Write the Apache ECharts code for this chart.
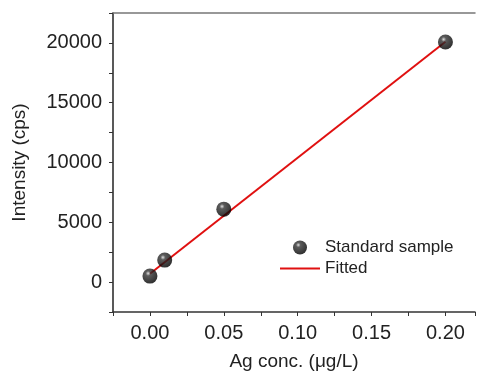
<!DOCTYPE html>
<html>
<head>
<meta charset="utf-8">
<script src="https://cdn.jsdelivr.net/npm/echarts@6/dist/echarts.min.js"></script>
<style>
  html, body { margin: 0; padding: 0; background: #fff; }
  #main { width: 478px; height: 379px; }
</style>
</head>
<body>
<div id="main"></div>
<script>
// measured points
const concX = [0, 0.01, 0.05, 0.2];
const intensityY = [500, 1840, 6100, 20070];
// fitted line end points
const fitX = [0, 0.2];
const fitY = [700, 20100];

const font = 'Liberation Sans, Arial, sans-serif';

const sphere = {
  type: 'radial', x: 0.38, y: 0.32, r: 0.65,
  colorStops: [
    { offset: 0, color: '#d8d8d8' },
    { offset: 0.25, color: '#333' },
    { offset: 1, color: '#000' }
  ]
};

const chart = echarts.init(document.getElementById('main'));
const option = {
  animation: false,
  backgroundColor: '#fff',
  grid: { left: 113, top: 13, right: 0, bottom: 67 },
  legend: {
    left: 274, top: 234, orient: 'vertical',
    itemWidth: 40, itemHeight: 14, itemGap: 4,
    textStyle: { fontFamily: font, fontSize: 17, color: '#222' },
    data: [
      { name: 'Standard sample', icon: 'circle' },
      { name: 'Fitted', itemStyle: { opacity: 0 } }
    ]
  },
  xAxis: [{
    type: 'value', min: -0.025, max: 0.22, interval: 0.025,
    name: 'Ag conc. (\u03bcg/L)', nameLocation: 'middle', nameGap: 40,
    nameTextStyle: { fontFamily: font, fontSize: 19, color: '#222' },
    splitLine: { show: false },
    axisLine: { onZero: false, lineStyle: { color: '#333', width: 1.5 } },
    axisTick: { length: 4, lineStyle: { color: '#333' },
      interval: function (i, v) { return v > -0.02; } },
    axisLabel: {
      fontFamily: font, fontSize: 20, color: '#222', margin: 11,
      formatter: function (v) {
        const k = Math.round(v / 0.025);
        return (k % 2 === 0 && v >= 0) ? v.toFixed(2) : '';
      }
    }
  }, {
    type: 'value', position: 'top', min: -0.025, max: 0.22,
    axisLine: { show: true, onZero: false, lineStyle: { color: '#777', width: 1.5 } },
    axisTick: { show: false }, axisLabel: { show: false }, splitLine: { show: false }
  }],
  yAxis: {
    type: 'value', min: -2500, max: 22500, interval: 2500,
    name: 'Intensity (cps)', nameLocation: 'middle', nameGap: 84,
    nameTextStyle: { fontFamily: font, fontSize: 19, color: '#222' },
    splitLine: { show: false },
    axisLine: { show: true, onZero: false, lineStyle: { color: '#222', width: 1.5 } },
    axisTick: { length: 4, lineStyle: { color: '#333' } },
    axisLabel: {
      fontFamily: font, fontSize: 20, color: '#222', margin: 11,
      formatter: function (v) {
        return (v >= 0 && v % 5000 === 0) ? String(v) : '';
      }
    }
  },
  series: [
    {
      name: 'Fitted', type: 'line', symbol: 'none', z: 2,
      lineStyle: { color: '#e01010', width: 2 },
      itemStyle: { color: '#e01010' },
      data: fitX.map((x, i) => [x, fitY[i]])
    },
    {
      name: 'Standard sample', type: 'scatter', symbolSize: 15, z: 3,
      itemStyle: { color: sphere },
      data: concX.map((x, i) => [x, intensityY[i]])
    }
  ]
};
chart.setOption(option);
</script>
</body>
</html>
